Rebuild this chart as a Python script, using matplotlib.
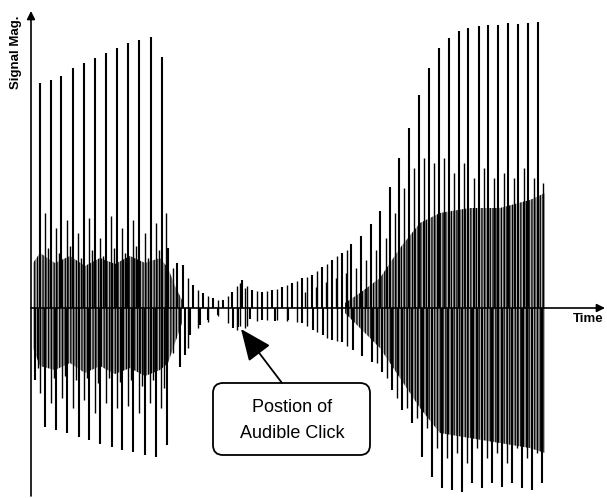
import matplotlib.pyplot as plt
from matplotlib.patches import FancyBboxPatch

# tiempo y amplitud (amplitud: arriba positivo)
pico_alto_t = [40, 51, 61, 73, 84, 95, 106, 117, 128, 139, 151, 162,
               168, 177, 183, 193, 203, 213, 223, 232, 242, 252, 262, 272,
               282, 292, 302, 312, 322, 332, 342, 351, 361, 371, 380, 390,
               399, 409, 419, 429, 439, 449, 459, 468, 479, 488, 498, 508,
               518, 528, 538]
pico_alto_y = [225, 228, 232, 240, 245, 250, 255, 260, 265, 268, 271, 251,
               60, 45, 43, 23, 15, 10, 8, 16, 28, 18, 16, 18,
               21, 25, 30, 33, 41, 48, 55, 64, 72, 84, 97, 121,
               150, 180, 213, 240, 260, 270, 277, 280, 282, 283, 283, 285,
               284, 285, 286]

pico_bajo_t = [35, 45, 56, 67, 79, 89, 100, 112, 122, 133, 145, 156, 167,
               180, 185, 190, 200, 208, 218, 233, 238, 250, 262, 275, 288,
               302, 313, 323, 332, 342, 353, 362, 372, 382, 392, 402, 412,
               422, 432, 442, 452, 462, 472, 482, 492, 502, 512, 522, 532,
               542]
pico_bajo_y = [-72, -119, -122, -125, -129, -132, -136, -139, -142, -144,
               -147, -149, -137,
               -59, -47, -27, -17, -12, -7, -20, -19, -11, -12, -13, -12,
               -15, -22, -27, -32, -34, -42, -48, -54, -64, -82, -102, -115,
               -149, -169, -180, -182, -184, -175, -180, -175, -179, -175,
               -180, -182, -175]

# picos secundarios
medio_t = [45, 48, 56, 59, 67, 70, 78, 81, 89, 92, 100, 103, 111, 114, 122,
           125, 133, 136, 145, 148, 156, 159, 166,
           305, 316, 326, 336, 346, 356, 366, 376, 386, 395, 404, 414,
           424, 434, 444, 454, 464, 474, 484, 494, 504, 514, 524, 534, 543]
medio_y = [95, 60, 80, 55, 88, 62, 75, 50, 90, 58, 70, 52, 92, 60, 80, 55,
           88, 62, 75, 50, 85, 58, 95,
           16, 21, 26, 30, 35, 40, 48, 58, 70, 95, 120, 140,
           150, 145, 150, 135, 145, 130, 140, 130, 135, 130, 140, 130, 125]
medio_bajo_t = [38, 40, 51, 54, 62, 65, 73, 76, 84, 87, 95, 98, 106, 109,
                117, 120, 128, 131, 139, 142, 150, 153, 161, 164,
                377, 387, 397, 407, 417, 427, 437, 447, 457, 467, 477, 487,
                497, 507, 517, 527, 537]
medio_bajo_y = [-60, -85, -95, -70, -90, -68, -100, -72, -92, -70, -105,
                -75, -95, -70, -100, -74, -98, -72, -105, -78, -95, -72,
                -100, -80,
                -55, -70, -90, -100, -110, -120, -140, -150, -145, -155,
                -140, -150, -145, -155, -140, -150, -145]

# oscilacion fina de la zona central
fino_t = [173, 188, 198, 208, 218, 228, 237, 240, 245, 247, 257, 267, 277,
          287, 297, 307, 317, 327, 337, 347]
fino_sup = [40, 30, 18, 12, 8, 12, 22, 25, 20, 22, 17, 17, 19, 23, 27, 31,
            37, 44, 52, 58]
fino_inf = [-45, -40, -20, -14, -8, -15, -22, -18, -20, -18, -13, -12, -12,
            -13, -14, -18, -24, -30, -33, -38]

# envolvente de la parte densa
izq_t = [33, 40, 55, 70, 85, 100, 115, 130, 145, 160, 168, 175, 182]
izq_sup = [45, 55, 45, 52, 42, 50, 44, 52, 45, 50, 40, 22, 8]
izq_inf = [-40, -58, -62, -55, -65, -58, -66, -60, -68, -62, -55, -35, -15]
der_t = [345, 360, 380, 400, 420, 440, 470, 500, 530, 545]
der_sup = [5, 15, 30, 60, 85, 95, 100, 100, 108, 115]
der_inf = [-5, -20, -40, -70, -100, -125, -130, -135, -140, -145]

fig = plt.figure(figsize=(6.07, 4.98), dpi=100)
ax = fig.add_axes([0, 0, 1, 1])
ax.set_xlim(0, 607)
ax.set_ylim(-190, 308)
ax.axis('off')

plt.rcParams['hatch.linewidth'] = 0.9
for t, sup, inf in [(izq_t, izq_sup, izq_inf), (der_t, der_sup, der_inf)]:
    ax.fill_between(t, inf, sup, facecolor='#b4b4b4', edgecolor='black',
                    hatch='||||||', linewidth=0)

ax.vlines(fino_t, fino_inf, fino_sup, color='black', linewidth=1.0)
ax.vlines(medio_t, 0, medio_y, color='black', linewidth=1.0)
ax.vlines(medio_bajo_t, medio_bajo_y, 0, color='black', linewidth=1.0)
ax.vlines(pico_alto_t, 0, pico_alto_y, color='black', linewidth=1.5)
ax.vlines(pico_bajo_t, pico_bajo_y, 0, color='black', linewidth=1.5)

# ejes con flechas
ax.annotate('', xy=(605, 0), xytext=(31, 0),
            arrowprops=dict(arrowstyle='-|>', color='black', lw=1.2,
                            mutation_scale=12, shrinkA=0, shrinkB=0))
ax.annotate('', xy=(31, 297), xytext=(31, -188),
            arrowprops=dict(arrowstyle='-|>', color='black', lw=1.2,
                            mutation_scale=12, shrinkA=0, shrinkB=0))
ax.text(588, -11, 'Time', fontsize=9.5, fontweight='bold', ha='center',
        va='center', family='Liberation Sans')
ax.text(16, 256, 'Signal Mag.', fontsize=9.5, fontweight='bold', rotation=90,
        ha='center', va='center', family='Liberation Sans')

# recuadro de la anotacion
caja = FancyBboxPatch((216, -144), 151, 66,
                      boxstyle='round,pad=3,rounding_size=10',
                      facecolor='white', edgecolor='black', linewidth=1.3)
ax.add_patch(caja)
ax.text(292, -99, 'Postion of', fontsize=13, ha='center', va='center',
        family='Liberation Sans')
ax.text(292, -125, 'Audible Click', fontsize=13, ha='center', va='center',
        family='Liberation Sans')
ax.annotate('', xy=(241, -21), xytext=(282, -75),
            arrowprops=dict(arrowstyle='-|>,head_length=1.4,head_width=0.6',
                            color='black', lw=1.3, mutation_scale=14,
                            shrinkA=0, shrinkB=0))

fig.savefig('out.png', dpi=100)
